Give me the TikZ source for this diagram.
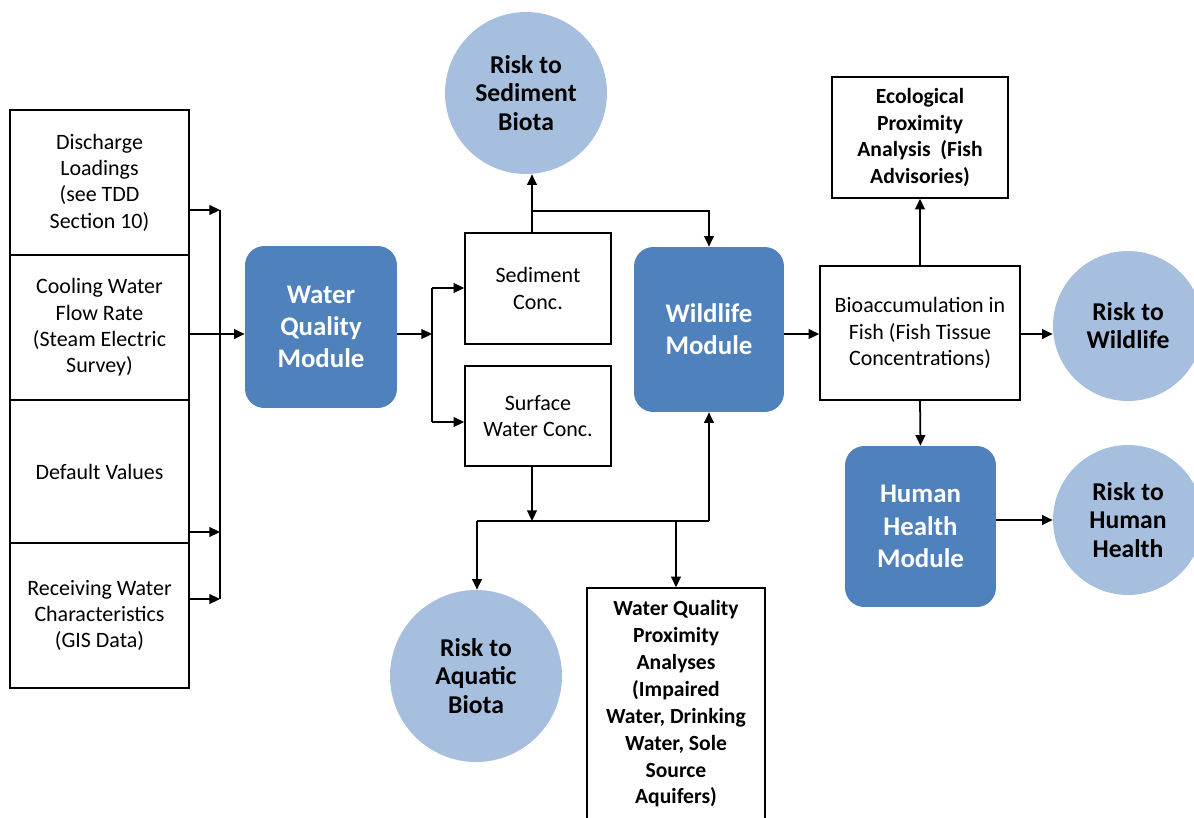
\documentclass[tikz,border=0pt]{standalone}
\usepackage{fontspec}
\setmainfont{Carlito}
\usetikzlibrary{arrows.meta}
\definecolor{modblue}{HTML}{4F81BD}
\definecolor{riskblue}{HTML}{A7BFDE}
\begin{document}
\begin{tikzpicture}[x=0.02cm,y=-0.02cm,
  box/.style={draw, line width=0.9pt, rectangle, align=center, font=\fontsize{12.5}{15}\selectfont, inner sep=0pt},
  boldbox/.style={box, font=\fontsize{12.3}{15.3}\selectfont\bfseries},
  module/.style={fill=modblue, rounded corners=11pt, align=center, text=white, font=\fontsize{15.3}{18.3}\selectfont\bfseries, inner sep=0pt},
  risk/.style={circle, fill=riskblue, align=center, font=\fontsize{14.6}{16}\selectfont\bfseries, inner sep=0pt},
  arr/.style={-{Triangle[length=6pt,width=5.5pt]}, line width=1pt},
  ln/.style={line width=1pt}]
\useasboundingbox (0,0) rectangle (1194,818);

% left input boxes
\node[box, minimum width=3.58cm, minimum height=2.9cm] (box1) at (99.5,182.5) {Discharge\\Loadings\\(see TDD\\Section 10)};
\node[box, minimum width=3.58cm, minimum height=2.9cm] (box2) at (99.5,327.5) {Cooling Water\\Flow Rate\\(Steam Electric\\Survey)};
\node[box, minimum width=3.58cm, minimum height=2.86cm] (box3) at (99.5,471.5) {Default Values};
\node[box, minimum width=3.58cm, minimum height=2.9cm] (box4) at (99.5,615.5) {Receiving Water\\Characteristics\\(GIS Data)};

% modules
\node[module, minimum width=3.04cm, minimum height=3.24cm] (wqm) at (321,327) {Water\\Quality\\Module};
\node[module, minimum width=3.0cm, minimum height=3.3cm] (wild) at (709,329.5) {Wildlife\\Module};
\node[module, minimum width=3.02cm, minimum height=3.22cm] (hh) at (920.5,526.5) {Human\\Health\\Module};

% concentration boxes
\node[box, minimum width=2.92cm, minimum height=2.22cm] (sed) at (538,288.5) {Sediment\\Conc.};
\node[box, minimum width=2.92cm, minimum height=2.0cm] (surf) at (538,416) {Surface\\Water Conc.};

% risk circles
\node[risk, minimum size=3.24cm] (rsed) at (526,93) {Risk to\\Sediment\\Biota};
\node[risk, minimum size=3.44cm] (raq) at (476,676) {Risk to\\Aquatic\\Biota};
\node[risk, minimum size=3.0cm] (rwild) at (1128,326) {Risk to\\Wildlife};
\node[risk, minimum size=3.0cm] (rhh) at (1128,520) {Risk to\\Human\\Health};

% right side boxes
\node[boldbox, minimum width=3.52cm, minimum height=2.42cm] (eco) at (920,137.5) {Ecological\\Proximity\\Analysis~~(Fish\\Advisories)};
\node[box, minimum width=4.0cm, minimum height=2.68cm] (bio) at (920,333) {Bioaccumulation in\\Fish (Fish Tissue\\Concentrations)};
\node[boldbox, minimum width=3.56cm, minimum height=4.64cm] (wqp) at (676,704) {Water Quality\\Proximity\\Analyses\\(Impaired\\Water, Drinking\\Water, Sole\\Source\\Aquifers)};

% input bus
\coordinate (b1) at (220,210);
\coordinate (b3) at (220,532);
\coordinate (b4) at (220,599);
\coordinate (a2) at (0,334);
\draw[ln] (b1) -- (b4);
\draw[arr] (box1.east |- b1) -- (b1);
\draw[arr] (box3.east |- b3) -- (b3);
\draw[arr] (box4.east |- b4) -- (b4);
\draw[arr] (box2.east |- a2) -- (wqm.west |- a2);

% WQM to concentration boxes
\coordinate (c) at (432,334);
\coordinate (cs) at (432,288);
\coordinate (cw) at (432,422);
\draw[arr] (wqm.east |- c) -- (c);
\draw[ln] (cs) -- (cw);
\draw[arr] (cs) -- (sed.west |- cs);
\draw[arr] (cw) -- (surf.west |- cw);

% sediment outputs
\coordinate (s1) at (532,211);
\coordinate (s2) at (709,211);
\draw[arr] (sed.north -| s1) -- (rsed.south -| s1);
\draw[arr] (s1) -- (s2) -- (wild.north -| s2);

% surface water outputs
\coordinate (w0) at (532,521);
\coordinate (wl) at (477,521);
\coordinate (wm) at (676,521);
\coordinate (wr) at (709,521);
\draw[arr] (surf.south -| w0) -- (w0);
\draw[ln] (wl) -- (wr);
\draw[arr] (wr) -- (wild.south -| wr);
\draw[arr] (wl) -- (raq.north -| wl);
\draw[arr] (wm) -- (wqp.north -| wm);

% right part
\coordinate (r1) at (0,334);
\draw[arr] (wild.east |- r1) -- (bio.west |- r1);
\draw[arr] (bio.north) -- (eco.south);
\draw[arr] (bio.east |- r1) -- (rwild.west |- r1);
\draw[arr] (bio.south) -- (hh.north);
\coordinate (h1) at (0,520);
\draw[arr] (hh.east |- h1) -- (rhh.west |- h1);
\end{tikzpicture}
\end{document}
